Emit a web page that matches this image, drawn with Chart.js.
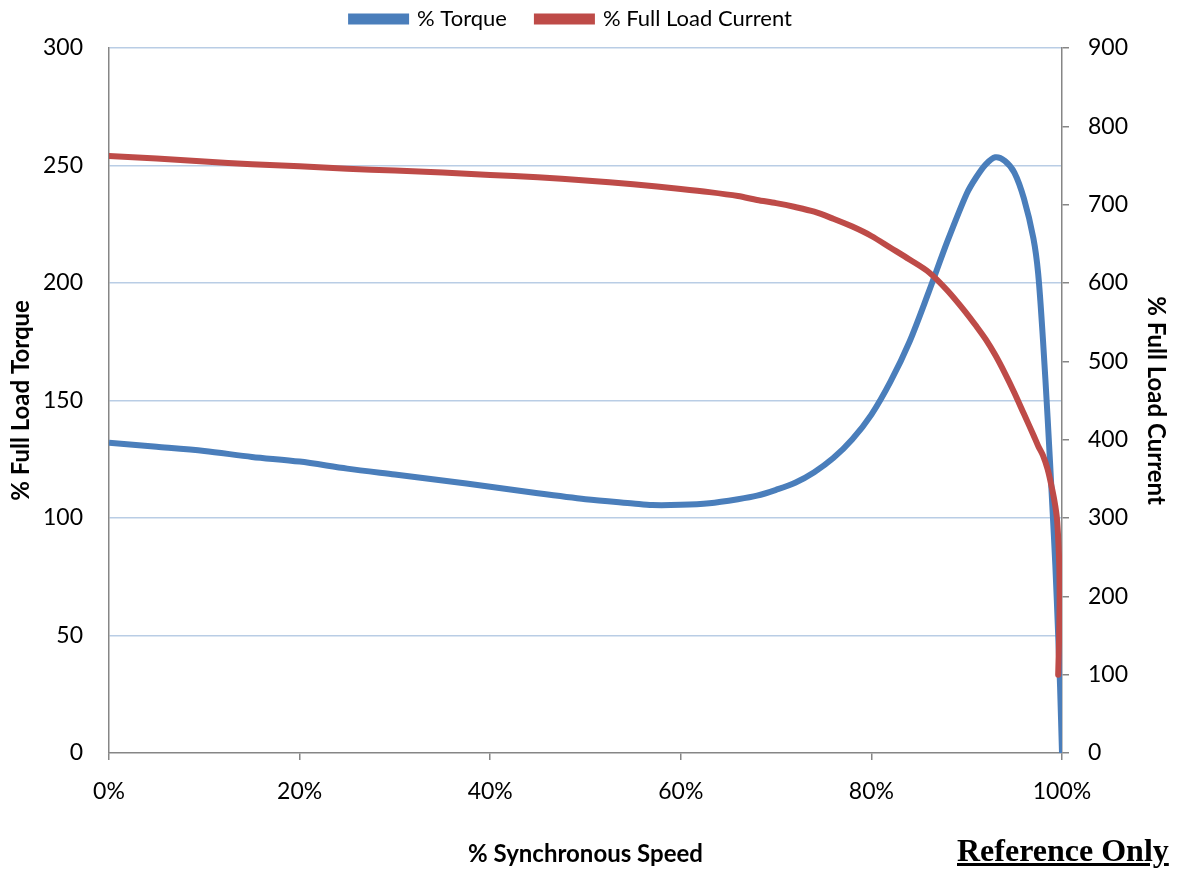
<!DOCTYPE html>
<html>
<head>
<meta charset="utf-8">
<script src="https://cdn.jsdelivr.net/npm/chart.js@4.4.1/dist/chart.umd.min.js"></script>
<style>
  html, body { margin: 0; padding: 0; background: #fff; }
  #wrap { position: relative; width: 1177px; height: 869px; }
  #note {
    position: absolute; left: 957px; top: 832px;
    font: bold 32px "Liberation Serif", "Times New Roman", serif;
    text-decoration: underline; color: #000; white-space: nowrap;
  }
</style>
</head>
<body>
<div id="wrap">
  <canvas id="motorChart" width="1177" height="869"></canvas>
  <div id="note">Reference Only</div>
</div>
<script>
// % synchronous speed and % full load torque
const speedTorque = [0, 5, 10, 15, 20, 25, 30, 35, 40, 45, 50, 55, 57, 60, 63, 66, 68, 70, 72, 74, 76, 78, 80, 82, 84, 86, 88, 90, 91, 92, 93, 94, 95, 96, 97, 97.5, 98, 98.5, 99, 99.3, 99.6, 99.8, 100];
const torque = [132, 130.3, 128.5, 126, 124, 121, 118.5, 116, 113.3, 110.5, 108, 106.2, 105.5, 105.6, 106.3, 108, 109.5, 112, 115, 119.5, 125.5, 133.5, 144, 158, 175, 196, 218, 238, 245, 250.5, 253.5, 252, 247, 236, 219, 204, 176, 142, 104, 80, 50, 28, 0];

// % synchronous speed and % full load current
const speedCurrent = [0, 5, 10, 15, 20, 25, 30, 35, 40, 45, 50, 55, 60, 63, 66, 68, 70, 72, 74, 76, 78, 80, 82, 84, 86, 88, 90, 91, 92, 93, 94, 95, 96, 97, 97.5, 98, 98.5, 99, 99.3, 99.5, 99.7, 99.75, 99.7, 99.6];
const current = [762, 759, 755, 751.5, 749, 746, 743.5, 741, 738, 735, 731, 726, 720, 716, 711, 706, 702, 697, 691, 682, 672, 660, 645, 630, 614, 590, 561, 545, 528, 508, 485, 460, 433, 406, 392, 380, 362, 335, 315, 295, 245, 200, 150, 100];

const speedTicks = [0, 20, 40, 60, 80, 100];

const toPoints = (xs, ys) => xs.map((x, i) => ({ x: x, y: ys[i] }));

const axisGrey = '#868686';
const gridBlue = '#b9cde5';
const tickFont = { family: 'Lato', size: 23 };
const titleFont = { family: 'Lato', size: 24, weight: 'bold' };

// legend: wide gap between items, but a short band above the plot
const legendBand = {
  id: 'legendBand',
  beforeInit(chart) {
    const fit = chart.legend.fit;
    chart.legend.fit = function () {
      fit.call(this);
      this.height = 48;
    };
  },
  afterLayout(chart) {
    const lg = chart.legend;
    lg.top = -22;
    lg.bottom = 48;
    lg.left -= 17;
    lg.right -= 17;
  }
};

new Chart(document.getElementById('motorChart').getContext('2d'), {
  type: 'line',
  data: {
    datasets: [
      {
        label: '% Torque',
        data: toPoints(speedTorque, torque),
        borderColor: '#4a7ebb',
        backgroundColor: '#4a7ebb',
        borderWidth: 6,
        pointRadius: 0,
        tension: 0.3,
        yAxisID: 'y',
        order: 1
      },
      {
        label: '% Full Load Current',
        data: toPoints(speedCurrent, current),
        borderColor: '#be4b48',
        backgroundColor: '#be4b48',
        borderWidth: 6,
        pointRadius: 0,
        tension: 0.3,
        borderCapStyle: 'round',
        yAxisID: 'y1',
        order: 0
      }
    ]
  },
  options: {
    responsive: false,
    animation: false,
    plugins: {
      tooltip: { enabled: false },
      legend: {
        position: 'top',
        labels: {
          font: { family: 'Lato', size: 22 },
          color: '#000',
          boxWidth: 55,
          boxHeight: 5,
          padding: 30,
          sort: (a, b) => a.datasetIndex - b.datasetIndex
        }
      }
    },
    scales: {
      x: {
        type: 'linear',
        min: 0,
        max: 100,
        afterBuildTicks: scale => { scale.ticks = speedTicks.map(v => ({ value: v })); },
        afterFit: scale => { scale.height = 116; },
        ticks: {
          font: tickFont,
          color: '#000',
          padding: 18,
          callback: v => v + '%'
        },
        grid: { drawOnChartArea: false, color: axisGrey, tickLength: 7, lineWidth: 1.5 },
        border: { color: axisGrey, width: 1.5 },
        title: {
          display: true,
          text: '% Synchronous Speed',
          font: titleFont,
          color: '#000',
          padding: { top: 2, bottom: 0 }
        }
      },
      y: {
        position: 'left',
        min: 0,
        max: 300,
        afterFit: scale => { scale.width = 109; },
        ticks: { stepSize: 50, font: tickFont, color: '#000', padding: 26 },
        grid: {
          color: ctx => (ctx.tick && ctx.tick.value === 0 ? 'rgba(0,0,0,0)' : gridBlue),
          lineWidth: 1.5,
          drawTicks: false,
          tickLength: 0
        },
        border: { color: axisGrey, width: 1.5 },
        title: {
          display: true,
          text: '% Full Load Torque',
          font: titleFont,
          color: '#000',
          padding: { top: 7, bottom: 0 }
        }
      },
      y1: {
        position: 'right',
        min: 0,
        max: 900,
        afterFit: scale => { scale.width = 115; },
        ticks: { stepSize: 100, font: tickFont, color: '#000', padding: 19 },
        grid: { drawOnChartArea: false, color: axisGrey, tickLength: 7, lineWidth: 1.5 },
        border: { color: axisGrey, width: 1.5 },
        title: {
          display: true,
          text: '% Full Load Current',
          font: titleFont,
          color: '#000',
          padding: { top: 7, bottom: 0 }
        }
      }
    }
  },
  plugins: [legendBand]
});
</script>
</body>
</html>
